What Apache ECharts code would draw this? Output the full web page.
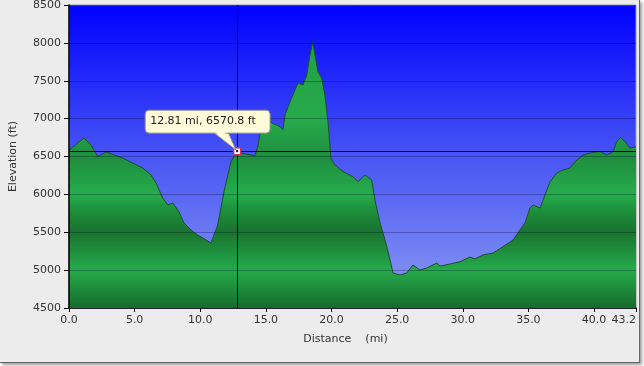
<!DOCTYPE html>
<html>
<head>
<meta charset="utf-8">
<script src="https://cdn.jsdelivr.net/npm/echarts@6/dist/echarts.min.js"></script>
<style>
html,body{margin:0;padding:0;background:#fff;}
#wrap{position:absolute;left:0;top:0;width:639px;height:362px;background:#ececec;border-right:1px solid #666;border-bottom:1px solid #666;box-shadow:2px 2px 3px #999;}
#chart{position:absolute;left:0;top:0;width:644px;height:366px;}
</style>
</head>
<body>
<div id="wrap"></div>
<div id="chart"></div>
<script>
const distances = [0.00,1.14,1.68,2.19,2.82,3.43,4.09,4.85,5.62,6.25,6.63,7.14,7.52,7.90,8.38,8.76,9.30,9.81,10.44,10.82,
  11.33,11.81,12.34,12.81,13.03,14.17,14.40,14.68,14.93,15.44,15.82,16.08,16.30,16.46,16.84,17.22,17.45,17.83,18.11,18.36,
  18.57,18.74,18.97,19.25,19.50,19.73,19.81,19.96,20.27,20.88,21.64,22.02,22.55,23.06,23.31,23.70,24.08,24.46,24.69,25.22,
  25.73,26.21,26.74,27.25,28.02,28.27,29.03,29.79,30.55,30.93,31.54,32.30,33.07,33.83,34.36,34.74,35.12,35.35,35.89,36.27,
  36.65,37.16,37.64,38.17,38.55,39.16,39.70,40.20,40.46,40.97,41.45,41.73,42.03,42.36,42.74,43.20];
const elevations = [6586,6744,6650,6497,6560,6520,6480,6414,6348,6256,6150,5952,5860,5886,5771,5622,5530,5463,5398,5358,
  5596,6035,6431,6570.8,6546,6510,6650,6916,7114,6942,6916,6893,6850,7048,7224,7378,7470,7444,7576,7840,
  8007,7840,7620,7536,7312,6960,6800,6470,6388,6300,6233,6167,6256,6190,5926,5622,5398,5134,4962,4935,
  4962,5068,5002,5028,5094,5054,5081,5111,5173,5147,5200,5226,5309,5398,5530,5622,5820,5860,5820,5992,
  6167,6282,6322,6348,6431,6520,6546,6560,6563,6520,6563,6695,6753,6695,6612,6629];
const cursor = [12.81, 6570.8];
const cursorLabel = '12.81 mi, 6570.8 ft';
const xName = 'Distance    (mi)';
const yName = 'Elevation (ft)';

const seriesData = distances.map((d, i) => [d, elevations[i]]);
const chart = echarts.init(document.getElementById('chart'), null, {renderer: 'canvas'});
const font = 'DejaVu Sans';

function build(greenFill, graphics) {
  return {
    animation: false,
    backgroundColor: 'transparent',
    grid: {
      left: 69, right: 8, top: 5, bottom: 58,
      outerBoundsMode: 'none',
      containLabel: false,
      show: true,
      borderColor: '#9a9a9a', borderWidth: 1,
      backgroundColor: new echarts.graphic.LinearGradient(0, 0, 0, 1, [
        {offset: 0, color: '#0000ff'},
        {offset: 0.5, color: '#4855f4'},
        {offset: 1, color: '#8c9cf2'}
      ])
    },
    xAxis: {
      type: 'value', min: 0, max: 43.2, interval: 5,
      name: xName, nameLocation: 'middle', nameGap: 26,
      nameTextStyle: {fontFamily: font, fontSize: 11, color: '#333', padding: [0, 14, 0, 0]},
      axisLine: {show: true, lineStyle: {color: '#000', width: 1.5}},
      axisTick: {show: true, length: 4, lineStyle: {color: '#000'}},
      axisLabel: {fontFamily: font, fontSize: 11, color: '#333', margin: 7, showMaxLabel: true,
        alignMaxLabel: 'right',
        formatter: v => v.toFixed(1)},
      splitLine: {show: false}
    },
    yAxis: {
      type: 'value', min: 4500, max: 8500, interval: 500, z: 5,
      name: yName, nameLocation: 'middle', nameGap: 50,
      nameTextStyle: {fontFamily: font, fontSize: 11, color: '#333'},
      axisLine: {show: true, lineStyle: {color: '#000', width: 1.5}},
      axisTick: {show: true, length: 5, lineStyle: {color: '#000'}},
      axisLabel: {fontFamily: font, fontSize: 11, color: '#333', margin: 8, formatter: v => String(v)},
      splitLine: {show: true, lineStyle: {color: 'rgba(0,0,40,0.28)', width: 1}}
    },
    series: [{
      type: 'line',
      data: seriesData,
      symbol: 'none',
      lineStyle: {color: '#1d4f27', width: 1},
      areaStyle: {color: greenFill, opacity: 1},
      markLine: {
        silent: true, symbol: 'none', animation: false,
        label: {show: false},
        lineStyle: {color: '#000', width: 1, type: 'solid'},
        data: [{xAxis: cursor[0]}, {yAxis: cursor[1]}]
      },
      markPoint: {
        silent: true, animation: false,
        label: {show: false},
        data: [
          {coord: cursor, symbol: 'rect', symbolSize: 7, itemStyle: {color: '#fff', borderColor: '#c8305c', borderWidth: 1.5}},
          {coord: cursor, symbol: 'rect', symbolSize: 2, itemStyle: {color: '#000'}}
        ]
      }
    }],
    graphic: graphics
  };
}

chart.setOption(build('#22a048', []));
const yTop = chart.convertToPixel({yAxisIndex: 0}, 8500);
const yBot = chart.convertToPixel({yAxisIndex: 0}, 4500);
const h = yBot - yTop;
const stop = (py) => Math.min(1, Math.max(0, (py - yTop) / h));
const green = new echarts.graphic.LinearGradient(0, yTop, 0, yBot, [
  {offset: 0, color: '#1f9a40'},
  {offset: stop(120), color: '#27aa4c'},
  {offset: stop(158), color: '#1e8e3e'},
  {offset: stop(194), color: '#26ac4c'},
  {offset: stop(214), color: '#1c8a39'},
  {offset: stop(232), color: '#18742f'},
  {offset: stop(270), color: '#26aa4b'},
  {offset: 1, color: '#166c2c'}
], true);
const p = chart.convertToPixel({gridIndex: 0}, cursor);
const px = p[0], py = p[1];
const boxL = px - 92, boxT = py - 41, boxW = 125, boxH = 23;
const graphics = [
  {type: 'polygon', z: 20, shape: {points: [[px - 24, boxT + boxH - 1], [px - 9, boxT + boxH - 1], [px - 1, py - 1]]},
    style: {fill: '#fffbd9', stroke: '#8a8a80', lineWidth: 1}},
  {type: 'rect', z: 21, shape: {x: boxL, y: boxT, width: boxW, height: boxH, r: 4},
    style: {fill: '#fffbd9', stroke: '#8a8a80', lineWidth: 1}},
  {type: 'polygon', z: 22, shape: {points: [[px - 23, boxT + boxH - 1.5], [px - 10, boxT + boxH - 1.5], [px - 16, boxT + boxH + 3]]},
    style: {fill: '#fffbd9', stroke: null}},
  {type: 'text', z: 23, x: boxL + 5, y: boxT + boxH / 2,
    style: {text: cursorLabel, fontFamily: font, fontSize: 11, fill: '#222', verticalAlign: 'middle'}}
];
chart.setOption(build(green, graphics));
</script>
</body>
</html>
